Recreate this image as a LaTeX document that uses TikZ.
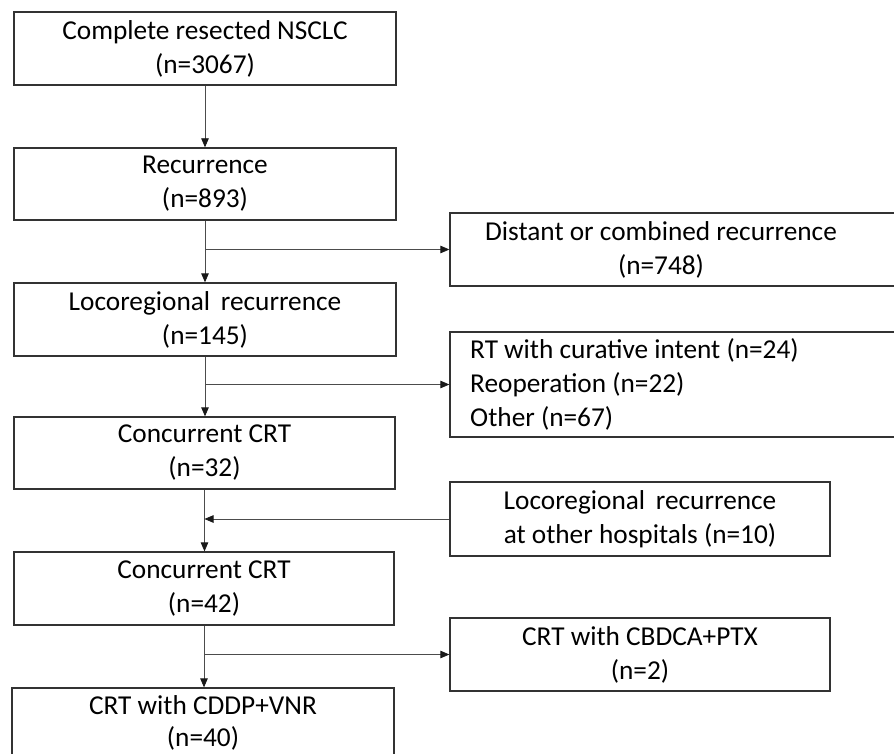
\documentclass[tikz,border=0pt]{standalone}
\usepackage{fontspec}
\setmainfont{Carlito}
\usetikzlibrary{arrows.meta}
\begin{document}
\begin{tikzpicture}[x=1pt,y=-1pt,
  box/.style={draw=black!80, line width=1.3pt, inner sep=0pt, align=center, font=\fontsize{27.3}{34}\selectfont},
  conn/.style={draw=black!70, line width=0.8pt, -{Triangle[length=9pt,width=7.5pt,color=black!90]}},
  txt/.style={inner sep=0pt, align=center, font=\fontsize{27.3}{34}\selectfont}]
\useasboundingbox[fill=white] (0,0) rectangle (894,754);
% main column
\node[box, minimum width=382pt, minimum height=73pt] (b1) at (205,48.5) {Complete resected NSCLC\\(n=3067)};
\node[box, minimum width=382pt, minimum height=72pt] (b2) at (205,184) {Recurrence\\(n=893)};
\node[box, minimum width=382pt, minimum height=73pt] (b3) at (205,319.5) {Locoregional\, recurrence\\(n=145)};
\node[box, minimum width=381pt, minimum height=72pt] (b4) at (204.5,453) {Concurrent CRT\\(n=32)};
\node[box, minimum width=380pt, minimum height=73pt] (b5) at (204,588.5) {Concurrent CRT\\(n=42)};
\node[box, minimum width=382pt, minimum height=70pt, font=\fontsize{27.3}{32}\selectfont] (b6) at (203,723) {CRT with CDDP+VNR\\(n=40)};
% side boxes
\node[box, minimum width=470pt, minimum height=73pt] (d) at (685,249.5) {};
\node[txt] (dt) at (661,249.5) {Distant or combined recurrence\\(n=748)};
\node[box, minimum width=470pt, minimum height=105pt] (r) at (685,384.5) {};
\node[txt, align=left, anchor=west] (rt) at (470,384.5) {RT with curative intent (n=24)\\Reoperation (n=22)\\Other (n=67)};
\node[box, minimum width=380pt, minimum height=74pt] (h) at (640,519) {Locoregional\, recurrence\\at other hospitals (n=10)};
\node[box, minimum width=380pt, minimum height=73pt] (c) at (640,654.5) {CRT with CBDCA+PTX\\(n=2)};
% connectors
\draw[conn] (b1.south) -- (b2.north);
\draw[conn] (b2.south) -- (b3.north);
\coordinate (j1) at (b2.south |- d.west);
\draw[conn] (j1) -- (d.west);
\draw[conn] (b3.south) -- (b3.south |- b4.north);
\coordinate (j2) at (b3.south |- r.west);
\draw[conn] (j2) -- (r.west);
\draw[conn] (b4.south) -- (b4.south |- b5.north);
\coordinate (j3) at (b4.south |- h.west);
\draw[conn] (h.west) -- (j3);
\draw[conn] (b5.south) -- (b5.south |- b6.north);
\coordinate (j4) at (b5.south |- c.west);
\draw[conn] (j4) -- (c.west);
\end{tikzpicture}
\end{document}
